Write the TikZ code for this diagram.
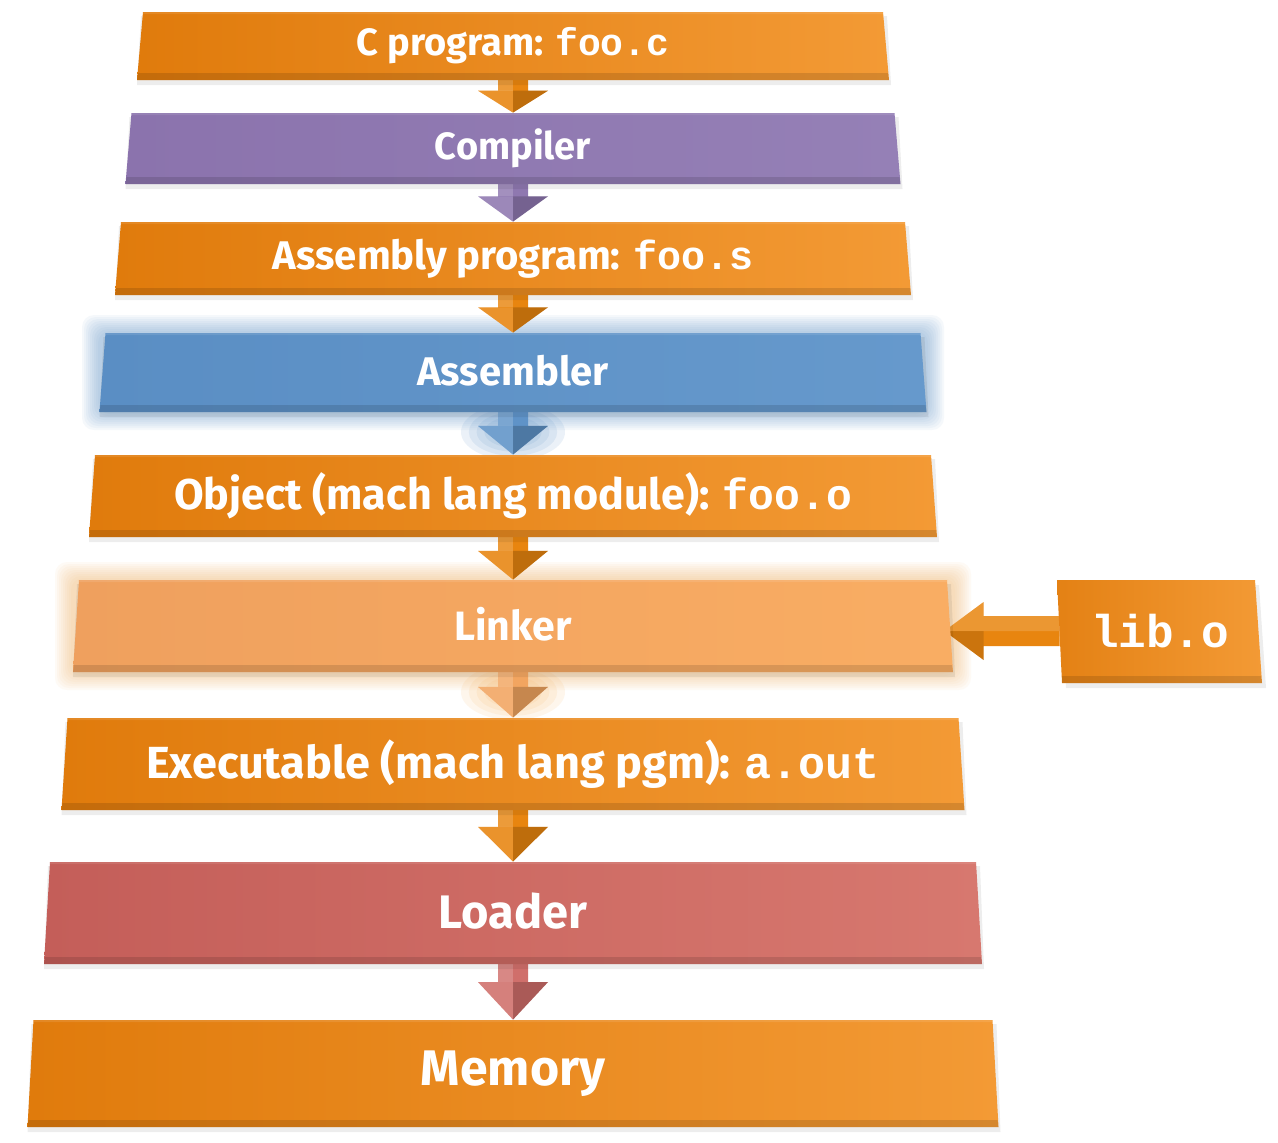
\documentclass[tikz,border=0pt]{standalone}
\usepackage{fontspec}
\setmainfont{Fira Sans}
\newfontfamily\courfont{Liberation Mono}
\newcommand\cour[1]{{\courfont\bfseries #1}}
\usetikzlibrary{calc}
\pgfdeclarelayer{bglayer}
\pgfdeclarelayer{glowlayer}
\pgfdeclarelayer{arrowlayer}
\pgfsetlayers{bglayer,glowlayer,arrowlayer,main}
\definecolor{orL}{HTML}{E07B0C}
\definecolor{orR}{HTML}{F39A35}
\definecolor{puL}{HTML}{8B73AD}
\definecolor{puR}{HTML}{9580B6}
\definecolor{blL}{HTML}{5A8EC4}
\definecolor{blR}{HTML}{6699CC}
\definecolor{liL}{HTML}{EFA05E}
\definecolor{liR}{HTML}{F9AD63}
\definecolor{loL}{HTML}{C45E59}
\definecolor{loR}{HTML}{D7786F}
\definecolor{arOr}{HTML}{E8850F}
\definecolor{arPu}{HTML}{8F78B0}
\definecolor{arBl}{HTML}{5F93C8}
\definecolor{arLi}{HTML}{F2A560}
\definecolor{arLo}{HTML}{D06F6B}
\definecolor{glLi}{HTML}{F7B565}
\tikzset{
  boxtext/.style={text=white, inner sep=0pt, anchor=center},
}
% #1 name, #2 top y, #3 bottom y, #4 half width (bottom), #5 left colour, #6 right colour, #7 font size, #8 text
\newcommand\slab[8]{%
  \pgfmathsetmacro\slabw{(2*#4-12)*0.5}%
  \pgfmathsetmacro\slabh{(#3-#2)*0.5}%
  \fill[black,opacity=.07] (513-#4+4,#2+4) -- (513+#4-2,#2+4) -- (513+#4+2,#3+5) -- (513-#4,#3+5) -- cycle;
  \shade[left color=#5,right color=#6] (513-#4+6,#2) -- (513+#4-6,#2) -- (513+#4,#3) -- (513-#4,#3) -- cycle;
  \fill[black,opacity=.12] (513-#4+1,#3-7) -- (513+#4-1,#3-7) -- (513+#4,#3) -- (513-#4,#3) -- cycle;
  \fill[white,opacity=.10] (513-#4+6,#2) -- (513+#4-6,#2) -- (513+#4-5.8,#2+2) -- (513-#4+5.8,#2+2) -- cycle;
  \node[boxtext, minimum width=\slabw pt, minimum height=\slabh pt,
        font=\bfseries\fontsize{#7}{#7}\selectfont] (#1) at (513,{(#2+#3)/2}) {\raisebox{2pt}{#8}};
}
% soft glow around a box: #1 top, #2 bottom, #3 half width, #4 colour
\newcommand\boxglow[4]{%
  \begin{pgfonlayer}{glowlayer}
  \foreach \g in {18,16,...,2}{
    \fill[#4,opacity=0.06,rounded corners=6pt] (513-#3-\g,#1-\g) rectangle (513+#3+\g,#2+\g);
  }
  \end{pgfonlayer}}
% soft glow blob: #1 centre y, #2 colour
\newcommand\blobglow[2]{%
  \begin{pgfonlayer}{glowlayer}
  \foreach \r in {1.0,0.85,0.7,0.55}{
    \fill[#2,opacity=0.12] (513,#1) ellipse ({52*\r} and {28*\r});
  }
  \end{pgfonlayer}}
% block arrow from node #1 down to node #2 in colour #3
\newcommand\downarr[3]{%
  \begin{pgfonlayer}{arrowlayer}
  \path (#1.south) coordinate (s) (#2.north) coordinate (t) ($(s)!0.32!(t)$) coordinate (h);
  \fill[#3] ([xshift=-7.5pt,yshift=8pt]s) -- ([xshift=7.5pt,yshift=8pt]s) -- ([xshift=7.5pt]h)
     -- ([xshift=17.5pt]h) -- (t) -- ([xshift=-17.5pt]h) -- ([xshift=-7.5pt]h) -- cycle;
  \fill[white,opacity=.18] ([xshift=-7.5pt,yshift=8pt]s) -- ([yshift=8pt]s) -- (h) -- ([xshift=-7.5pt]h) -- cycle;
  \fill[white,opacity=.12] ([xshift=-17.5pt]h) -- (h) -- (t) -- cycle;
  \fill[black,opacity=.18] (h) -- ([xshift=17.5pt]h) -- (t) -- cycle;
  \end{pgfonlayer}}
\begin{document}
\begin{tikzpicture}[x=0.5pt,y=-0.5pt]
\useasboundingbox (0,0) rectangle (1278,1142);
\begin{pgfonlayer}{bglayer}
  \fill[white] (0,0) rectangle (1278,1142);
\end{pgfonlayer}

\boxglow{333}{412}{413}{arBl}
\boxglow{580}{672}{440}{glLi}
\blobglow{432}{arBl}
\blobglow{692}{glLi}

\slab{cprog}{12}{80}{376}{orL}{orR}{19}{C program: \cour{foo.c}}
\slab{comp}{113}{184}{387.5}{puL}{puR}{19}{Compiler}
\slab{asmp}{222}{295}{398}{orL}{orR}{20}{Assembly program: \cour{foo.s}}
\slab{asmr}{333}{412}{413.5}{blL}{blR}{20}{Assembler}
\slab{obj}{455}{537}{424}{orL}{orR}{21.5}{Object (mach lang module): \cour{foo.o}}
\slab{link}{580}{672}{440}{liL}{liR}{20.5}{Linker}
\slab{exe}{718}{810}{451.5}{orL}{orR}{22.5}{Executable (mach lang pgm): \cour{a.out}}
\slab{load}{862}{964}{469}{loL}{loR}{23.5}{Loader}
\slab{mem}{1020}{1127}{485.5}{orL}{orR}{25}{Memory}

% lib.o box
\fill[black,opacity=.07] (1061,585) -- (1259,585) -- (1266,688) -- (1066,688) -- cycle;
\shade[left color=orL!80!orR,right color=orR] (1057,580) -- (1255,580) -- (1262,683) -- (1062,683) -- cycle;
\fill[black,opacity=.12] (1062,676) -- (1261,676) -- (1262,683) -- (1062,683) -- cycle;
\node[boxtext, minimum width=100pt, minimum height=51pt, font=\fontsize{23}{23}\selectfont]
  (lib) at (1160,631) {\cour{lib.o}};

\downarr{cprog}{comp}{arOr}
\downarr{comp}{asmp}{arPu}
\downarr{asmp}{asmr}{arOr}
\downarr{asmr}{obj}{arBl}
\downarr{obj}{link}{arOr}
\downarr{link}{exe}{arLi}
\downarr{exe}{load}{arOr}
\downarr{load}{mem}{arLo}

% arrow from lib.o to linker
\begin{pgfonlayer}{arrowlayer}
  \path (lib.west) coordinate (ls) ($(link.east)+(-3,3)$) coordinate (lt);
  \coordinate (tip) at (lt |- ls);
  \coordinate (lh) at ($(ls)!0.66!(tip)$);
  \fill[arOr] ([yshift=7.5pt]ls) -- ([yshift=7.5pt]lh) -- ([yshift=14.5pt]lh) -- (tip)
     -- ([yshift=-14.5pt]lh) -- ([yshift=-7.5pt]lh) -- ([yshift=-7.5pt]ls) -- cycle;
  \fill[white,opacity=.15] ([yshift=7.5pt]ls) -- ([yshift=7.5pt]lh) -- ([yshift=14.5pt]lh) -- (tip) -- (lh) -- (ls) -- cycle;
  \fill[black,opacity=.12] ([yshift=-14.5pt]lh) -- (tip) -- (lh) -- cycle;
\end{pgfonlayer}
\end{tikzpicture}
\end{document}
